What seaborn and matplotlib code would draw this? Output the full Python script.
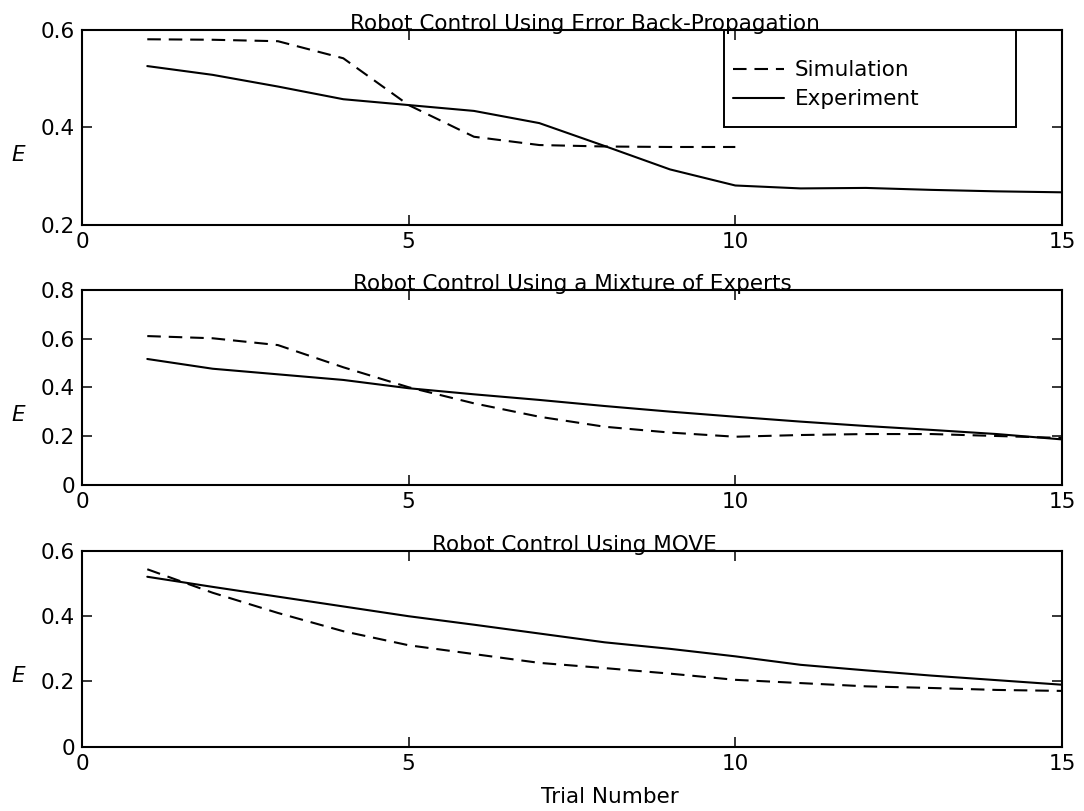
import numpy as np
import pandas as pd
import matplotlib
matplotlib.use("Agg")
import matplotlib.pyplot as plt
from matplotlib.patches import Rectangle
import seaborn as sns

# ---- data ----
trials_sim_bp = [1, 2, 3, 4, 5, 6, 7, 8, 9, 10]
sim_bp = [0.581, 0.580, 0.577, 0.542, 0.446, 0.381, 0.364, 0.361, 0.360, 0.360]
trials_exp = list(range(1, 16))
exp_bp = [0.526, 0.508, 0.484, 0.458, 0.446, 0.434, 0.409, 0.362, 0.314, 0.281,
          0.275, 0.276, 0.272, 0.269, 0.267]

trials_full = list(range(1, 16))
sim_moe = [0.611, 0.602, 0.574, 0.483, 0.401, 0.335, 0.280, 0.239, 0.215, 0.198,
           0.205, 0.209, 0.209, 0.201, 0.193]
exp_moe = [0.517, 0.477, 0.454, 0.431, 0.397, 0.372, 0.349, 0.324, 0.301, 0.280,
           0.260, 0.242, 0.226, 0.209, 0.187]

sim_move = [0.544, 0.472, 0.410, 0.354, 0.311, 0.284, 0.257, 0.241, 0.224, 0.205,
            0.195, 0.185, 0.180, 0.174, 0.171]
exp_move = [0.521, 0.490, 0.460, 0.430, 0.400, 0.374, 0.347, 0.320, 0.300, 0.277,
            0.251, 0.234, 0.218, 0.204, 0.190]

titles = ["Robot Control Using Error Back-Propagation",
          "Robot Control Using a Mixture of Experts",
          "Robot Control Using MOVE"]
series_names = ["Simulation", "Experiment"]
xticks = [0, 5, 10, 15]
yticks_list = [[0.2, 0.4, 0.6], [0, 0.2, 0.4, 0.6, 0.8], [0, 0.2, 0.4, 0.6]]
ylims = [(0.2, 0.6), (0, 0.8), (0, 0.6)]
yticklabels_list = [["0.2", "0.4", "0.6"], ["0", "0.2", "0.4", "0.6", "0.8"],
                    ["0", "0.2", "0.4", "0.6"]]


def make_df(tsim, sim, texp, exp):
    return pd.concat([
        pd.DataFrame({"Trial": tsim, "E": sim, "Series": series_names[0]}),
        pd.DataFrame({"Trial": texp, "E": exp, "Series": series_names[1]}),
    ], ignore_index=True)


dfs = [make_df(trials_sim_bp, sim_bp, trials_exp, exp_bp),
       make_df(trials_full, sim_moe, trials_full, exp_moe),
       make_df(trials_full, sim_move, trials_full, exp_move)]

sns.set_theme(style="white")
plt.rcParams["font.family"] = ["DejaVu Sans"]
plt.rcParams["axes.linewidth"] = 1.5
for k in ["text.color", "axes.labelcolor", "xtick.color", "ytick.color",
          "axes.edgecolor"]:
    plt.rcParams[k] = "black"

FS = 15.5

fig = plt.figure(figsize=(10.84, 8.11), dpi=100)
positions = [
    [0.0756, 0.7226, 0.9041, 0.2404],
    [0.0756, 0.4020, 0.9041, 0.2404],
    [0.0756, 0.0793, 0.9041, 0.2413],
]
title_x = [0.513, 0.5, 0.502]

for i, (df, pos) in enumerate(zip(dfs, positions)):
    ax = fig.add_axes(pos)
    sns.lineplot(data=df, x="Trial", y="E", style="Series",
                 style_order=series_names,
                 dashes={"Simulation": (6.5, 3.8), "Experiment": ""},
                 color="black", linewidth=1.5, ax=ax, legend=(i == 0))
    ax.set_xlim(0, 15)
    ax.set_ylim(*ylims[i])
    ax.set_xticks(xticks)
    ax.set_xticklabels([str(t) for t in xticks])
    ax.set_yticks(yticks_list[i])
    ax.set_yticklabels(yticklabels_list[i])
    ax.tick_params(direction="in", length=7.2, width=1.1, top=True, right=True,
                   bottom=True, left=True, labelsize=FS, colors="black", pad=5)
    for s in ax.spines.values():
        s.set_visible(True)
        s.set_color("black")
    ax.set_title(titles[i], fontsize=FS, pad=0, x=title_x[i])
    ax.set_ylabel("E", fontsize=FS, style="italic", rotation=0, va="center",
                  ha="center")
    ax.yaxis.set_label_coords(-0.065, 0.36)
    if i == 2:
        ax.set_xlabel("Trial Number", fontsize=FS, va="top")
        ax.xaxis.set_label_coords(0.539, -0.205)
    else:
        ax.set_xlabel("")
    if i == 0:
        ax.add_patch(Rectangle((0.655, 0.5), 0.298, 0.5, transform=ax.transAxes,
                               fill=False, edgecolor="black", linewidth=1.4,
                               zorder=5, clip_on=False))
        leg = ax.legend(loc="center left", bbox_to_anchor=(0.664, 0.72),
                        frameon=False, fontsize=FS, handlelength=2.4,
                        handletextpad=0.47, borderpad=0.0, labelspacing=0.42,
                        borderaxespad=0.0)
        for h in leg.get_lines():
            h.set_linewidth(1.5)

fig.savefig("out.png", dpi=100)
